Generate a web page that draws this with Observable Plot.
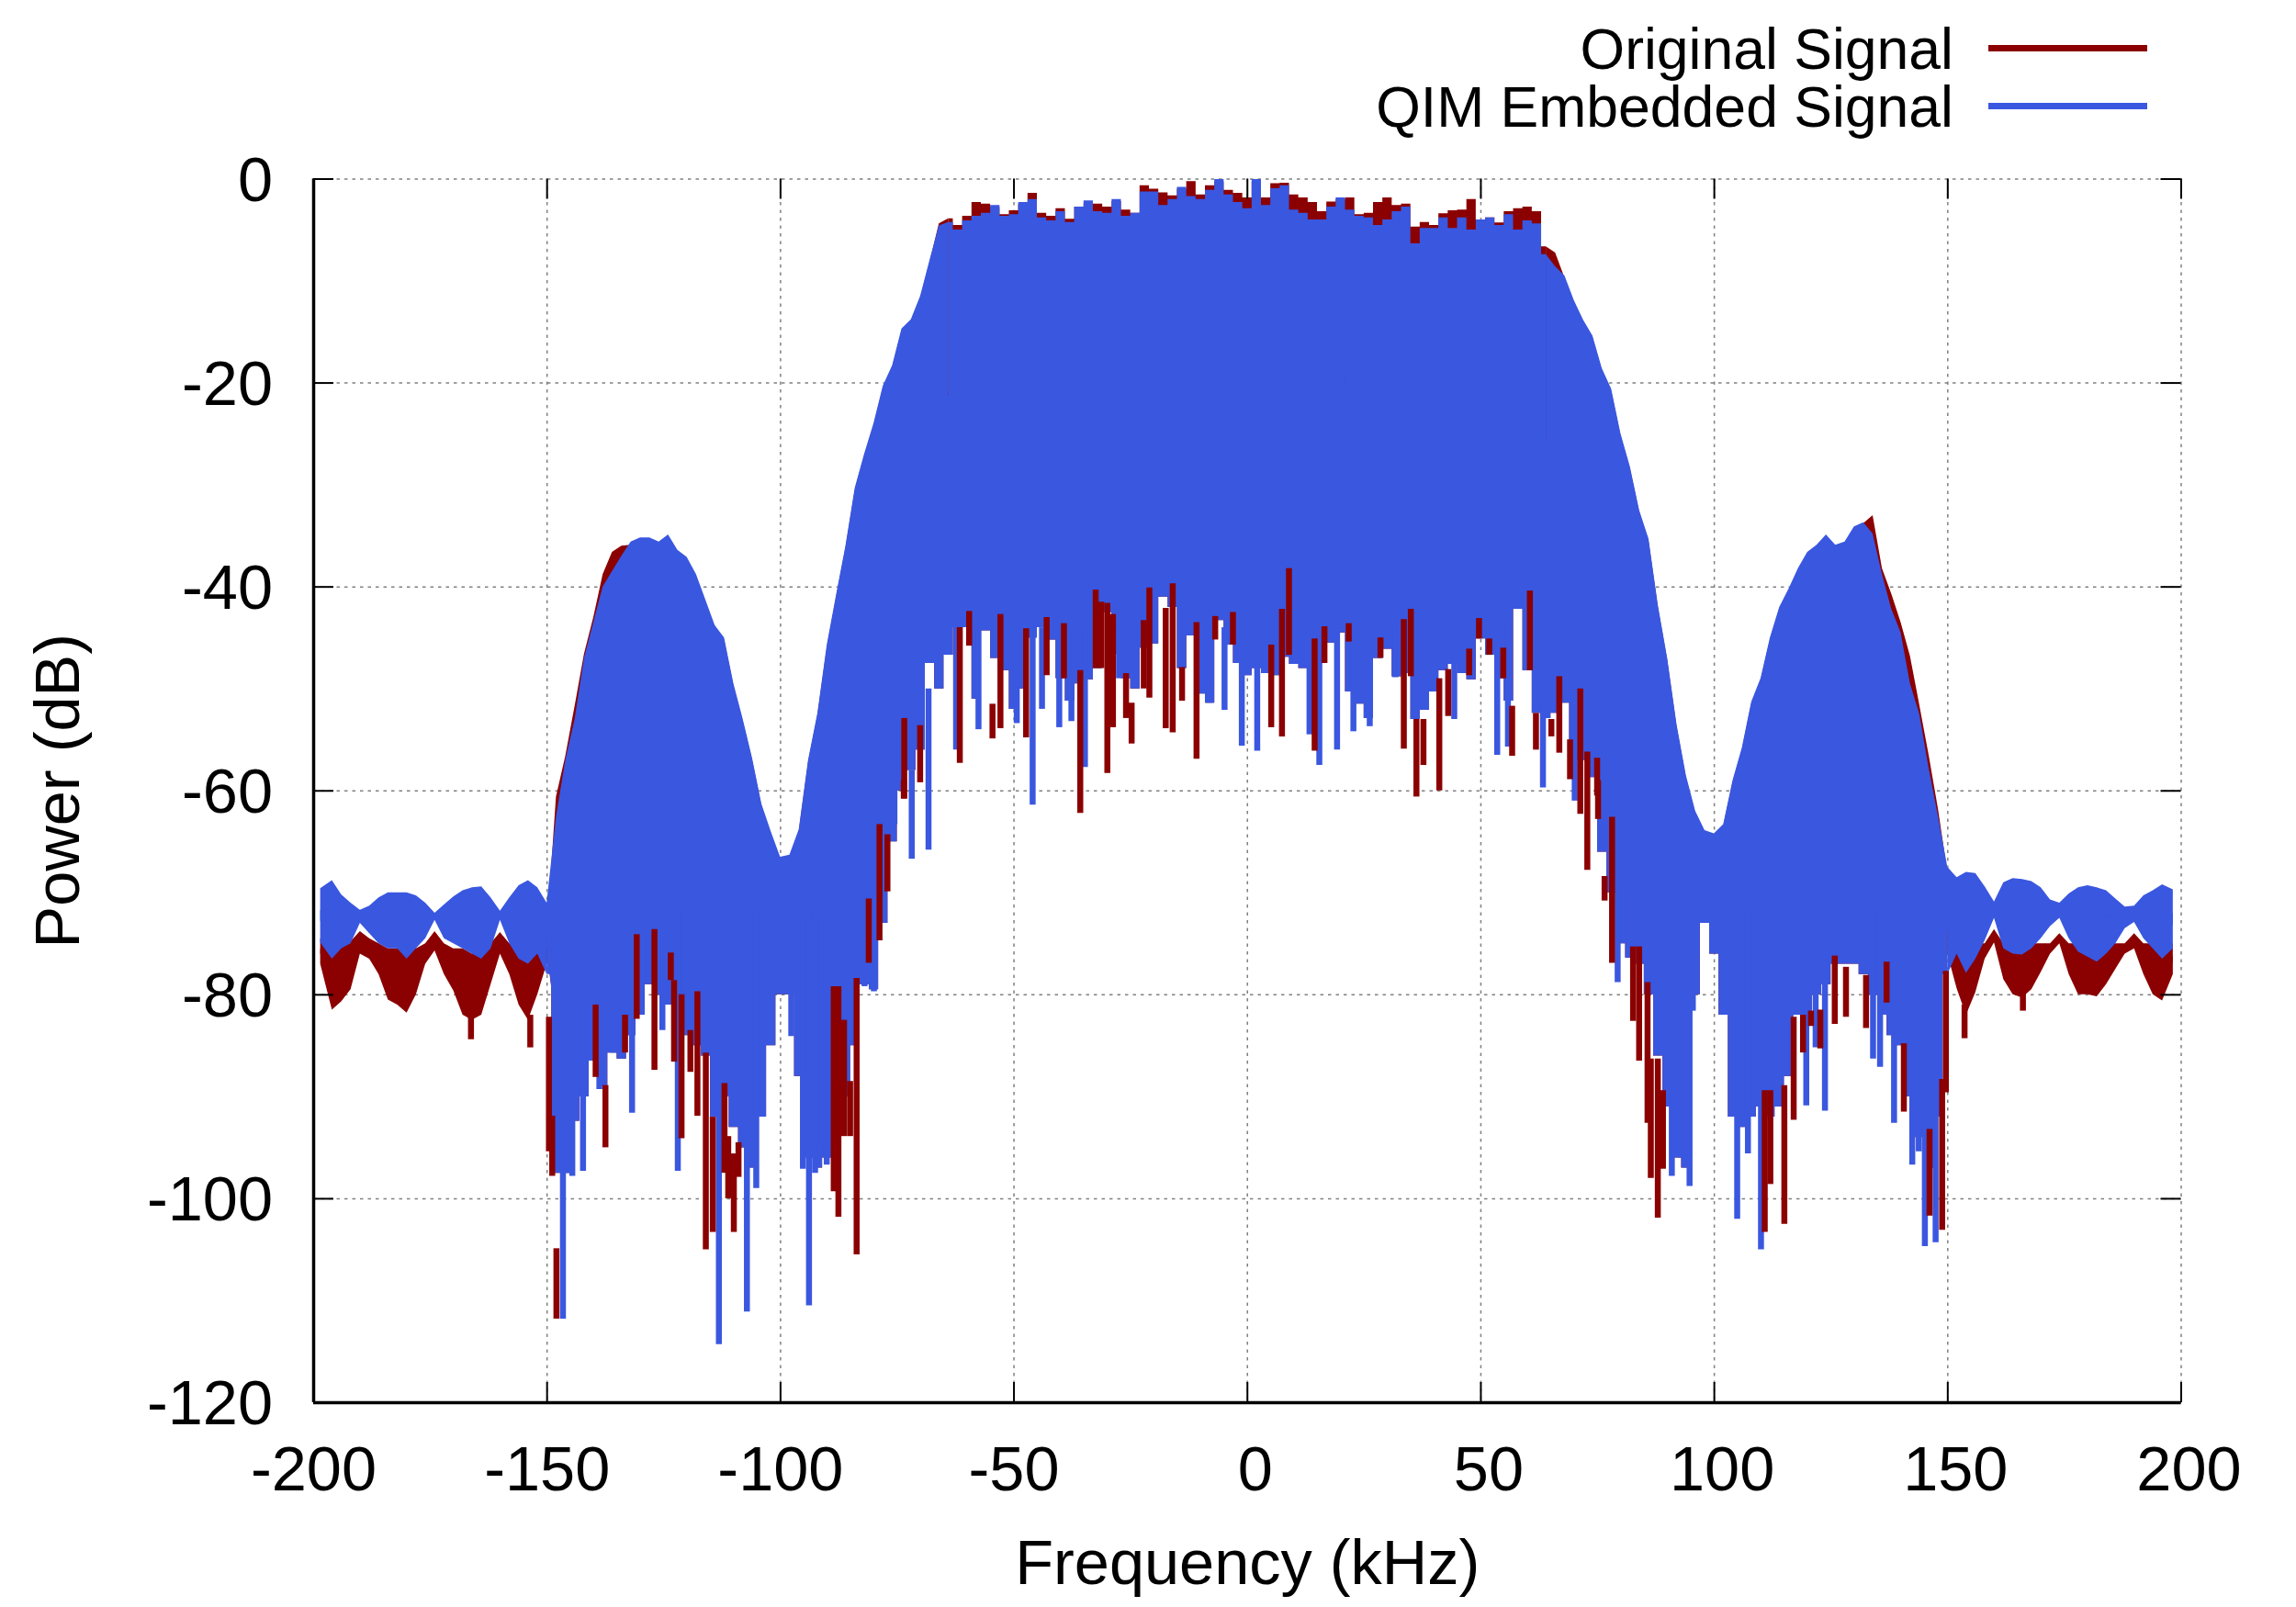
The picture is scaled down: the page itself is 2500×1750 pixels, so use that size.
<!DOCTYPE html>
<html>
<head>
<meta charset="utf-8">
<script src="https://cdn.jsdelivr.net/npm/d3@7"></script>
<script src="https://cdn.jsdelivr.net/npm/@observablehq/plot@0.6"></script>
<style>
  body { margin: 0; background: #fff; font-family: "Liberation Sans", sans-serif; }
  #chart { position: relative; width: 2500px; height: 1750px; }
  #chart svg { display: block; }
  .key { position: absolute; right: 373px; font-size: 62.5px; line-height: 60px; white-space: nowrap; color: #000; }
  .swatch { position: absolute; left: 2165px; width: 172.5px; height: 7px; }
</style>
</head>
<body>
<div id="chart">
  <div class="key" style="top:23px">Original Signal</div>
  <div class="swatch" style="top:49px;background:#8b0000"></div>
  <div class="key" style="top:86px">QIM Embedded Signal</div>
  <div class="swatch" style="top:112px;background:#3a57e0"></div>
</div>
<script>
var xTicks = [-200, -150, -100, -50, 0, 50, 100, 150, 200];
var yTicks = [0, -20, -40, -60, -80, -100, -120];

// frequency bins, kHz
var freq = [
  -198.5,-196,-194,-192,-190,-188,-186,-184,-182,-180,
  -178,-176,-174,-172,-170,-168,-166,-164,-162,-160,
  -158,-156,-154,-152,-150,-148,-146,-144,-142,-140,
  -138,-136,-134,-132,-130,-128,-126,-124,-122,-120,
  -118,-116,-114,-112,-110,-108,-106,-104,-102,-100,
  -98,-96,-94,-92,-90,-88,-86,-84,-82,-80,
  -78,-76,-74,-72,-70,-68,-66,-64,-62,-60,
  -58,-56,-54,-52,-50,-48,-46,-44,-42,-40,
  -38,-36,-34,-32,-30,-28,-26,-24,-22,-20,
  -18,-16,-14,-12,-10,-8,-6,-4,-2,0,
  2,4,6,8,10,12,14,16,18,20,
  22,24,26,28,30,32,34,36,38,40,
  42,44,46,48,50,52,54,56,58,60,
  62,64,66,68,70,72,74,76,78,80,
  82,84,86,88,90,92,94,96,98,100,
  102,104,106,108,110,112,114,116,118,120,
  122,124,126,128,130,132,134,136,138,140,
  142,144,146,148,150,152,154,156,158,160,
  162,164,166,168,170,172,174,176,178,180,
  182,184,186,188,190,192,194,196,198.3
];

// upper and lower edge of each trace, dB
var blueTop = [
  -69.6,-68.8,-70.2,-71,-71.7,-71.3,-70.5,-70,-70,-70,
  -70.3,-71,-72,-71.2,-70.4,-69.8,-69.5,-69.4,-70.5,-71.8,
  -70.5,-69.3,-68.8,-69.5,-71,-62.6,-57,-53,-47,-43.5,
  -40,-38.5,-37,-35.6,-35.2,-35.2,-35.6,-34.9,-36.4,-37.1,
  -38.8,-41.3,-43.8,-45,-49.5,-53,-56.8,-61.3,-64,-66.5,
  -66.3,-63.8,-57,-52.4,-45.7,-40.8,-36,-30.3,-27,-24,
  -20.3,-18.3,-14.7,-13.8,-11.5,-8,-4.6,-4.25,-5,-4.1,
  -3.65,-3.35,-2.6,-3.65,-3.5,-2.3,-2,-3.8,-4.1,-3.2,
  -4.25,-2.75,-2.15,-3.2,-3.35,-2,-3.65,-3.35,-1.25,-1.25,
  -2.6,-2,-0.8,-1.7,-2,-1.1,-0.05,-1.55,-2.3,-2.9,
  -0.05,-2.6,-0.95,-0.65,-3.05,-3.35,-4,-4,-2.75,-1.85,
  -3.05,-3.65,-3.8,-4.55,-4,-3.2,-2.75,-6.35,-4.85,-4.85,
  -3.8,-4.85,-3.8,-5,-4,-3.8,-4.55,-3.5,-5,-4.1,
  -4.4,-7.4,-8.6,-9.5,-11.9,-13.85,-15.4,-18.6,-20.6,-25,
  -28.2,-32.5,-35.3,-41.8,-47,-53.5,-58.5,-62,-63.9,-64.2,
  -63.3,-59,-55.8,-51.3,-49,-45,-42,-40.2,-38.2,-36.6,
  -35.9,-34.9,-35.9,-35.6,-34.1,-33.7,-34.8,-38.8,-42.2,-44.5,
  -49.5,-52.5,-57.8,-62.5,-67.5,-68.5,-68,-68.1,-69.4,-70.9,
  -69,-68.6,-68.7,-68.9,-69.5,-70.7,-71,-70.1,-69.5,-69.3,
  -69.5,-69.8,-70.6,-71.4,-71.3,-70.3,-69.8,-69.2,-69.7
];
var blueLow = [
  -74.9,-76.5,-75.5,-75,-73,-74,-75,-75.5,-75.5,-76.5,
  -75.5,-74.5,-72.7,-74.5,-75,-75.5,-76,-76.5,-75.5,-72.7,
  -75,-76.5,-77,-76,-78,-97.5,-97.5,-92.4,-90,-86.5,
  -89,-85.7,-86.3,-84,-82,-79,-80,-81,-82,-84,
  -85,-86,-92,-90,-93,-95,-97,-92,-85,-80,
  -80,-88,-96,-97,-96,-92,-90,-85,-79,-79.5,
  -73,-65,-60,-58,-56,-47.5,-50,-46.7,-44,-44,
  -51,-44.3,-47,-48.2,-52,-50,-45,-44,-45.2,-49,
  -51.2,-49.5,-49.1,-48,-42.5,-46.6,-49,-50,-46,-45.6,
  -41,-42,-48,-44.8,-50.5,-51.4,-43.3,-45.7,-47.5,-48.7,
  -48,-48.5,-48.7,-46.9,-47.6,-48,-50,-47.5,-45.5,-44.5,
  -50.3,-51.5,-52.9,-47,-46.1,-48.8,-48.5,-53,-52.1,-50.3,
  -48.2,-47.6,-48.5,-49.1,-45.1,-46.7,-49,-51.2,-42.2,-48.2,
  -52.4,-52.9,-52.4,-51.4,-57,-57,-58.7,-66,-70,-75,
  -76.4,-77,-80,-86,-91,-96,-97,-80,-73,-76,
  -82,-92,-93,-92,-91,-92,-91,-88,-82,-83,
  -80,-79,-77,-77,-77,-78,-80,-82,-84,-85,
  -90,-94,-97,-92,-78,-76,-77.9,-76.5,-74.7,-72.5,
  -75.5,-76,-76.1,-75.5,-74.5,-73.3,-72.5,-74.5,-75.8,-76.3,
  -76.8,-76,-75,-73.5,-72.9,-74.5,-75.5,-76.5,-75.5
];
var redTop = [
  -74.5,-75.5,-75,-74.8,-73.8,-74.5,-75,-75.5,-75.5,-75.5,
  -75.5,-75,-73.8,-75,-75.5,-75.5,-76,-75.5,-75,-73.9,
  -75,-75.5,-75.5,-75,-74,-60.6,-56.6,-51.7,-46.6,-43,
  -38.8,-36.6,-36,-35.9,-35.4,-35.4,-35.8,-35.2,-36.6,-37.3,
  -39,-41.5,-44,-45.2,-49.7,-53.2,-57,-61.5,-64.2,-66.7,
  -66.5,-64,-57.2,-52.6,-46,-41,-36.2,-30.5,-27.2,-24.2,
  -20.5,-18.5,-14.9,-14,-11.7,-8.2,-4.4,-3.9,-4.55,-3.65,
  -2.3,-2.45,-2.8,-3.5,-3.1,-2.5,-1.4,-3.35,-3.65,-2.9,
  -3.95,-2.75,-2.4,-2.45,-2.75,-2.2,-3.05,-3.35,-0.65,-1,
  -1.35,-1.65,-1,-0.25,-1.55,-0.65,-0.3,-1.1,-1.4,-1.85,
  -0.3,-1.85,-0.45,-0.4,-1.55,-1.85,-2.3,-3.2,-2.25,-2,
  -1.85,-3.5,-3.35,-2.3,-1.85,-2.6,-2.45,-4.7,-4.25,-4.55,
  -3.4,-3.1,-3.05,-2,-4,-3.8,-4.3,-3.2,-2.9,-2.75,
  -3.2,-6.65,-7.25,-9.7,-12.1,-14,-15.6,-18.8,-20.8,-25.2,
  -28.4,-32.7,-35.5,-42,-47.2,-53.7,-58.7,-62.2,-64.1,-64.4,
  -63.5,-59.2,-56,-51.5,-49.2,-45.2,-42.2,-40.4,-38.4,-36.8,
  -36.1,-35.1,-36.1,-35.8,-34.3,-33.8,-33,-38.2,-40.7,-43.5,
  -46.8,-51.6,-56.5,-61.8,-68,-75,-75,-75,-75,-73.6,
  -75,-75,-75,-75,-75,-75,-74,-75,-75,-75,
  -75,-75,-75,-75,-74,-75,-75,-75,-75
];
var redLow = [
  -77,-81.5,-80.7,-79.5,-76,-76.5,-78,-80.5,-81,-81.8,
  -80,-77,-75.7,-78,-79.6,-82,-82.5,-82,-79,-76,
  -78,-81,-82.5,-80,-77,-97.5,-97.5,-92.4,-90,-86.5,
  -89,-85.7,-86.3,-84,-82,-79,-80,-81,-82,-84,
  -85,-86,-92,-90,-93,-95,-97,-92,-85,-80,
  -80,-88,-96,-97,-96,-92,-90,-85,-79,-79.5,
  -73,-65,-60,-58,-56,-47.5,-50,-46.7,-44,-44,
  -51,-44.3,-47,-48.2,-52,-50,-45,-44,-45.2,-49,
  -51.2,-49.5,-49.1,-48,-42.5,-46.6,-49,-50,-46,-45.6,
  -41,-42,-48,-44.8,-50.5,-51.4,-43.3,-45.7,-47.5,-48.7,
  -48,-48.5,-48.7,-46.9,-47.6,-48,-50,-47.5,-45.5,-44.5,
  -50.3,-51.5,-52.9,-47,-46.1,-48.8,-48.5,-53,-52.1,-50.3,
  -48.2,-47.6,-48.5,-49.1,-45.1,-46.7,-49,-51.2,-42.2,-48.2,
  -52.4,-52.9,-52.4,-51.4,-57,-57,-58.7,-66,-70,-75,
  -76.4,-77,-80,-86,-91,-96,-97,-80,-73,-76,
  -82,-92,-93,-92,-91,-92,-91,-88,-82,-83,
  -80,-79,-77,-77,-77,-78,-80,-82,-84,-85,
  -90,-94,-97,-92,-76,-79.4,-82,-79.8,-76.5,-74.9,
  -78.5,-80,-80.3,-79.5,-77.8,-76,-75,-78,-80,-80,
  -80.2,-79,-77.5,-76,-75.5,-78,-80,-80.6,-78
];

// deep nulls, one FFT bin wide
var blueSpikeF = [
  -146.6,-145.6,-144.6,-142.3,-138.8,-135.8,-134.1,-131.8,-125.3,-122,-113.2,-107.2,-105.2,
  -97.7,-95.2,-93.9,-92.6,-91.1,-90.1,-82,-80,-75.6,-71.9,-68.3,
  -62.4,-57.6,-49.4,-46,-44,-40.3,-37.7,-34.8,-27.5,-8.1,-4.9,-1.2,2.1,13.3,15.4,19.2,22.7,26.2,31.7,
  44.3,53.5,55.8,63.3,70.1,79.3,81.9,90.9,92.9,94.7,95.4,
  104.9,107.2,110,119.7,121.7,123.7,134,135.5,138.5,142.4,143.8,145.1,147.4
];
var blueSpikeHi = [
  -72,-72,-72,-72,-72,-72,-72,-72,-72,-72,-72,-72,-72,
  -72,-72,-72,-72,-72,-72,-70,-70,-60,-58,-50,
  -44,-44,-44,-44,-44,-44,-44,-44,-44,-44,-44,-44,-44,-44,-44,-44,-44,-44,-44,
  -44,-44,-44,-44,-50,-70,-70,-72,-72,-72,-72,
  -72,-72,-72,-72,-72,-72,-72,-72,-72,-72,-72,-72,-72
];
var blueSpikeLo = [
  -111.8,-97.5,-97.8,-97.3,-89.3,-85.7,-86.3,-91.6,-83.5,-97.3,-114.3,-111.1,-99,
  -84.1,-97.1,-110.5,-97.5,-94.5,-96.7,-79.2,-79.7,-63.3,-66.7,-65.8,
  -56,-54,-53.4,-61.4,-52,-53.8,-53.2,-57.7,-49,-51.4,-52.1,-55.6,-56.1,-54.5,-57.5,-56,-54.2,-53.7,-48.9,
  -53,-56.5,-55.7,-59.7,-61,-78.8,-76.4,-97.8,-96,-98.8,-81.6,
  -102,-95.6,-105,-90.9,-85.2,-91.4,-86.3,-87.1,-92.6,-96.7,-95.4,-104.7,-104.3
];

var redSpikeF = [
  -166.3,-153.6,-149.6,-148.9,-148,-139.6,-137.5,-133.3,-130.8,-127,-123.5,-122.8,-121.2,-119.3,-117.8,
  -116,-114.5,-112,-111.2,-110,-109,-88.6,-87.6,-86.4,-85.1,-83.7,-81.1,-78.8,-77.1,-73.6,
  -73.5,-70.1,-61.6,-59.6,-54.6,-52.9,-47.4,-43,-39.3,-35.8,-32.5,-31.3,-30,-28.8,-26,-24.8,-22.2,-21,
  -17.5,-16,-14,-10.9,-6.9,-3.1,5.1,7.4,8.9,14.4,16.5,21.7,28.5,33.5,35,36.2,37.7,41.1,43,47.5,49.6,51.8,
  54.8,56.7,60.5,61.8,65.1,66.8,69.1,71.3,72.8,74.9,75.1,76.5,78.1,82.6,83.9,85.7,86.4,87.9,89,
  110.8,112,115,117,119,120.7,122.7,125.8,128.2,132.5,136.9,140.6,146.1,148.8,149.6,153.6,166.1
];
var redSpikeHi = [
  -82,-82,-82.2,-91.9,-104.9,-81,-88.9,-82,-74.1,-73.6,-75.9,-78.6,-80,-83.5,-79.7,
  -85.7,-92,-88.7,-93.9,-95.6,-94.5,-79.2,-79.2,-82.5,-88.5,-78.4,-70.6,-63.3,-64.3,-59,
  -52.9,-53.6,-44,-42.4,-51.5,-42.7,-44.1,-43,-43.6,-48.2,-40.3,-41.5,-41.6,-42.7,-48.5,-51.4,-43.3,-40.1,
  -42.1,-39.7,-47.9,-43.5,-42.9,-42.5,-45.7,-42.2,-38.2,-45.1,-43.9,-43.6,-45,-43.2,-42.2,-53,-53,-49,-48.1,-46.1,-43.1,-45.1,
  -46,-51.7,-40.4,-52.4,-53,-48.8,-55,-50,-56.2,-56.8,-59,-68.4,-62.6,-75.3,-75.3,-78.8,-86.3,-86.3,-89.4,
  -89.4,-89.4,-88.9,-82.2,-82,-81.6,-81.5,-76.2,-77.3,-78.1,-76.8,-84.8,-93.2,-88.3,-77.7,-81,-79
];
var redSpikeLo = [
  -84.4,-85.2,-95.4,-97.8,-111.8,-88.1,-95,-85.7,-82.4,-87.4,-78.6,-86.6,-94.1,-87.6,-91.9,
  -105,-103.3,-97.5,-100,-103.3,-97.9,-99.3,-101.8,-93.9,-93.9,-105.5,-76.9,-74.7,-69.9,-60.8,
  -60.8,-59.2,-57.3,-45.8,-54.9,-53.9,-54.8,-48.7,-49,-62.2,-48,-48,-58.3,-53.8,-52.9,-55.4,-50,-50.9,
  -53.9,-54.3,-51.2,-56.9,-45.2,-45.7,-53.8,-54.7,-46.7,-56.1,-47.5,-45.4,-47,-55.9,-48.8,-60.6,-57.5,-60,-52.7,-48.7,-45.1,-46.7,
  -49,-56.6,-48.2,-56,-54.7,-56.3,-58.9,-62.3,-67.8,-60.5,-62.8,-70.8,-76.9,-82.6,-86.5,-92.6,-98,-101.9,-97.1,
  -103.3,-98.6,-102.5,-92.3,-85.7,-83.1,-85.3,-82.9,-82.2,-83.3,-80.8,-91.5,-101.7,-103.1,-89.6,-84.3,-81.6
];

var red = "#8b0000", blue = "#3a57e0", gridColor = "#808080";
var binWidth = 6.5;
var frameW = 2033.5, frameH = 1332.5, tickLen = 22;
var dash = { stroke: gridColor, strokeWidth: 1.5, strokeDasharray: "3.5,5" };
var tick = { stroke: "#000", strokeWidth: 2 };

// keep values only where test(freq) holds, the rest leaves a gap in the area
function only(values, test) {
    return values.map((v, i) => test(freq[i]) ? v : NaN);
}

// the flanks and the wings read better joined up, the noisy parts as steps
function trace(top, low, fill) {
    var upperSeam = top.map((v, i) => v + (low[i] - v) * 0.6);
    var lowerSeam = top.map((v, i) => v + (low[i] - v) * 0.4);
    var flat = f => Math.abs(f) <= 64;
    var flank = f => Math.abs(f) >= 64;
    var inner = f => Math.abs(f) <= 150;
    var wing = f => Math.abs(f) >= 150;
    return [
        Plot.areaY(freq, { x: freq, y1: only(upperSeam, flat), y2: only(top, flat), curve: "step", fill: fill }),
        Plot.areaY(freq, { x: freq, y1: only(upperSeam, flank), y2: only(top, flank), fill: fill }),
        Plot.areaY(freq, { x: freq, y1: only(low, inner), y2: only(lowerSeam, inner), curve: "step", fill: fill }),
        Plot.areaY(freq, { x: freq, y1: only(low, wing), y2: only(lowerSeam, wing), fill: fill })
    ];
}

var chart = Plot.plot({
    width: 2500,
    height: 1750,
    marginLeft: 341,
    marginRight: 125.5,
    marginTop: 194.5,
    marginBottom: 223,
    style: { fontFamily: "Liberation Sans", fontSize: "68.5px", background: "#fff", color: "#000" },
    x: { domain: [-200, 200], label: null },
    y: { domain: [-120, 0], label: null },
    marks: [
        // dotted grid and the top/right edges
        Plot.ruleX(xTicks, dash),
        Plot.ruleY(yTicks, dash),

        trace(redTop, redLow, red),
        trace(blueTop, blueLow, blue),
        Plot.ruleX(blueSpikeF, { x: blueSpikeF, y1: blueSpikeHi, y2: blueSpikeLo, stroke: blue, strokeWidth: binWidth }),
        Plot.ruleX(redSpikeF, { x: redSpikeF, y1: redSpikeHi, y2: redSpikeLo, stroke: red, strokeWidth: binWidth }),

        // ticks point inward on all four sides
        Plot.ruleX(xTicks, { ...tick, insetTop: frameH - tickLen }),
        Plot.ruleX(xTicks, { ...tick, insetBottom: frameH - tickLen }),
        Plot.ruleY(yTicks, { ...tick, insetRight: frameW - tickLen }),
        Plot.ruleY(yTicks, { ...tick, insetLeft: frameW - tickLen }),

        // labels; positive x labels sit a little right of their tick in the reference
        Plot.axisX({ anchor: "bottom", ticks: xTicks.filter(d => d < 0), tickSize: 0, tickPadding: 46.5, tickFormat: d => String(d),
            label: "Frequency (kHz)", labelAnchor: "center", labelArrow: "none", labelOffset: 197 }),
        Plot.axisX({ anchor: "bottom", ticks: xTicks.filter(d => d >= 0), tickSize: 0, tickPadding: 46.5, tickFormat: d => String(d),
            label: null, dx: 8.5 }),
        Plot.axisY({ anchor: "left", ticks: yTicks, tickSize: 0, tickPadding: 44.5, tickFormat: d => String(d), dy: 2,
            label: "Power (dB)", labelAnchor: "center", labelArrow: "none", labelOffset: 304 }),

        // solid left and bottom edges
        Plot.ruleX([-200], { stroke: "#000", strokeWidth: 3.5 }),
        Plot.ruleY([-120], { stroke: "#000", strokeWidth: 3.5 })
    ]
});

document.getElementById("chart").prepend(chart);
</script>
</body>
</html>
